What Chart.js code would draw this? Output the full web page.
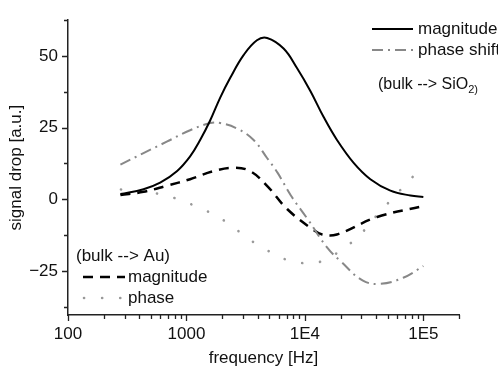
<!DOCTYPE html>
<html>
<head>
<meta charset="utf-8">
<script src="https://cdn.jsdelivr.net/npm/chart.js@4/dist/chart.umd.min.js"></script>
<style>
html,body{margin:0;padding:0;background:#fff;}
#wrap{width:498px;height:367px;position:relative;}
</style>
</head>
<body>
<div id="wrap"><canvas id="c" width="498" height="367"></canvas></div>
<script>
// ---- data ----
const sioMagFreq   = [277, 434, 600, 830, 1074, 1305, 1585, 1928, 2344, 3035, 3936, 4800, 6607, 8570, 11120, 14400, 18660, 25800, 35700, 52700, 77800, 100000];
const sioMagValue  = [1.8, 3.5, 5.8, 9.8, 15.0, 20.7, 27.5, 35.5, 42.4, 50.3, 55.5, 56.3, 52.6, 45.8, 37.8, 28.7, 20.7, 12.7, 7.0, 3.0, 1.3, 0.8];

const sioPhaseFreq  = [277, 434, 682, 1074, 1585, 1928, 2670, 3690, 4790, 5890, 7590, 10500, 15500, 20000, 30900, 43600, 67600, 100000];
const sioPhaseValue = [12.1, 16.1, 20.1, 24.1, 26.6, 26.6, 24.7, 20.7, 14.4, 9.2, 1.4, -6.8, -17.0, -21.6, -28.4, -29.5, -27.4, -23.3];

const auMagFreq   = [277, 434, 682, 1074, 1690, 2500, 3450, 4790, 7080, 11700, 14000, 18600, 40700, 100000];
const auMagValue  = [1.5, 2.6, 4.7, 7.0, 9.8, 11.0, 9.8, 4.7, -3.4, -10.6, -12.3, -12.3, -6.2, -2.4];

const auPhaseFreq  = [280, 560, 810, 1150, 1660, 2340, 3310, 4790, 6760, 9770, 14100, 18600, 28200, 40700, 83000];
const auPhaseValue = [3.4, 2.0, 0.3, -2.1, -5.1, -8.9, -13.7, -17.8, -20.9, -22.3, -21.6, -18.8, -13.0, -5.5, 8.2];

const xTickValues = [100, 1000, 10000, 100000];
const xTickLabels = ['100', '1000', '1E4', '1E5'];
const yTickValues = [-25, 0, 25, 50];
const yTickLabels = ['\u221225', '0', '25', '50'];
const yMinorValues = [-37.5, -12.5, 12.5, 37.5, 62.5];

const legendTopLabels = ['magnitude', 'phase shift'];
const legendTopNote = ['(bulk --> SiO', '2)'];
const legendBottomTitle = '(bulk --> Au)';
const legendBottomLabels = ['magnitude', 'phase'];

const xTitle = 'frequency [Hz]';
const yTitle = 'signal drop [a.u.]';

// ---- build ----
const pts = (xs, ys) => xs.map((x, i) => ({x: x, y: ys[i]}));
const FONT = "'Liberation Sans', Arial, sans-serif";

const datasets = [
  {label: legendTopLabels[0], data: pts(sioMagFreq, sioMagValue), borderColor: '#000', borderWidth: 2, borderDash: []},
  {label: legendTopLabels[1], data: pts(sioPhaseFreq, sioPhaseValue), borderColor: '#888', borderWidth: 2, borderDash: [11, 5, 2, 5]},
  {label: legendBottomLabels[0], data: pts(auMagFreq, auMagValue), borderColor: '#000', borderWidth: 2.5, borderDash: [10, 7]},
  {label: legendBottomLabels[1], data: pts(auPhaseFreq, auPhaseValue), borderColor: '#999', borderWidth: 2.6, borderDash: [0.1, 18], borderCapStyle: 'round'}
];
datasets.forEach(d => { d.pointRadius = 0; d.fill = false; d.tension = 0.4; });

const tickPlugin = {
  id: 'ticksAndLegend',
  afterDraw(chart) {
    const ctx = chart.ctx;
    const xs = chart.scales.x, ys = chart.scales.y;
    const a = chart.chartArea;
    ctx.save();
    ctx.strokeStyle = '#222';
    ctx.lineWidth = 1.3;
    ctx.beginPath();
    yTickValues.concat(yMinorValues).forEach(v => {
      const major = yTickValues.includes(v);
      const py = Math.round(ys.getPixelForValue(v)) + 0.5;
      ctx.moveTo(a.left, py); ctx.lineTo(a.left - (major ? 6 : 4), py);
    });
    for (let dec = 100; dec <= 100000; dec *= 10) {
      for (let m = 1; m <= 9; m++) {
        const v = dec * m;
        if (v > xs.max + 1) break;
        const px = Math.round(xs.getPixelForValue(v)) + 0.5;
        ctx.moveTo(px, a.bottom); ctx.lineTo(px, a.bottom + (m === 1 ? 6 : 4));
      }
    }
    ctx.stroke();

    const drawSample = (ds, x1, x2, y) => {
      ctx.save();
      ctx.strokeStyle = ds.borderColor;
      ctx.lineWidth = ds.borderWidth;
      ctx.setLineDash(ds.borderDash || []);
      ctx.lineCap = ds.borderCapStyle || 'butt';
      ctx.beginPath(); ctx.moveTo(x1, y); ctx.lineTo(x2, y); ctx.stroke();
      ctx.restore();
    };
    ctx.fillStyle = '#111';
    ctx.font = '17px ' + FONT;
    ctx.textBaseline = 'middle';
    ctx.textAlign = 'left';
    drawSample(datasets[0], 372, 413, 29);
    ctx.fillText(legendTopLabels[0], 418, 29);
    drawSample(datasets[1], 372, 413, 50);
    ctx.fillText(legendTopLabels[1], 418, 50);
    ctx.font = '16px ' + FONT;
    ctx.fillText(legendTopNote[0], 378, 85);
    const w = ctx.measureText(legendTopNote[0]).width;
    ctx.font = '11px ' + FONT;
    ctx.fillText(legendTopNote[1], 378 + w, 90);
    ctx.font = '17px ' + FONT;
    ctx.fillText(legendBottomTitle, 76, 256);
    drawSample(datasets[2], 83, 125, 277);
    ctx.fillText(legendBottomLabels[0], 128, 277);
    drawSample(datasets[3], 84, 121, 298);
    ctx.fillText(legendBottomLabels[1], 128, 298);
    ctx.restore();
  }
};

new Chart(document.getElementById('c'), {
  type: 'line',
  data: {datasets: datasets},
  plugins: [tickPlugin],
  options: {
    responsive: false,
    animation: false,
    devicePixelRatio: 1,
    layout: {padding: {left: 0, right: 39, top: 15, bottom: 0}},
    plugins: {legend: {display: false}, tooltip: {enabled: false}},
    scales: {
      x: {
        type: 'logarithmic',
        min: 100, max: 200000,
        grid: {display: false, drawTicks: false},
        border: {display: true, color: '#222', width: 1.5},
        afterFit(s) { s.height = 52; },
        afterBuildTicks(s) { s.ticks = xTickValues.map(v => ({value: v})); },
        ticks: {
          autoSkip: false, maxRotation: 0, padding: 9,
          color: '#111', font: {family: FONT, size: 17},
          callback: (v) => { const i = xTickValues.indexOf(v); return i >= 0 ? xTickLabels[i] : ''; }
        },
        title: {display: true, text: xTitle, color: '#111', font: {family: FONT, size: 17}, padding: {top: 0, bottom: -2}}
      },
      y: {
        type: 'linear',
        min: -40.4, max: 62.5,
        grid: {display: false, drawTicks: false},
        border: {display: true, color: '#222', width: 1.5},
        afterFit(s) { s.width = 68; },
        afterBuildTicks(s) { s.ticks = yTickValues.map(v => ({value: v})); },
        ticks: {
          autoSkip: false, padding: 10,
          color: '#111', font: {family: FONT, size: 17},
          callback: (v) => { const i = yTickValues.indexOf(v); return i >= 0 ? yTickLabels[i] : ''; }
        },
        title: {display: true, text: yTitle, color: '#111', font: {family: FONT, size: 17}, padding: {top: 6, bottom: 0}}
      }
    }
  }
});
</script>
</body>
</html>
